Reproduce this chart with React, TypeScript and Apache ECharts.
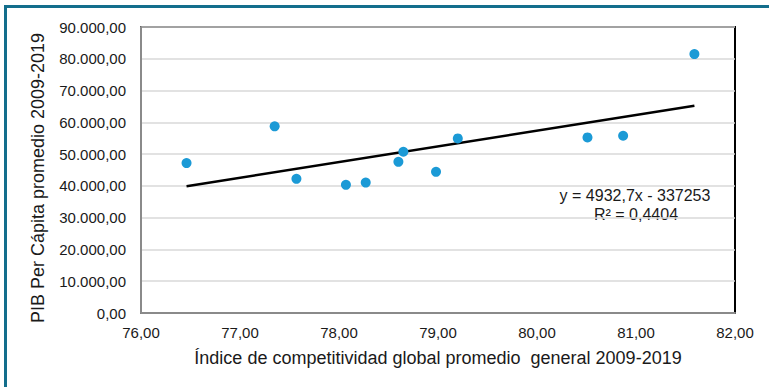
import React, { useEffect, useRef } from "react";
import * as echarts from "echarts";

// Índice de competitividad global (promedio 2009-2019)
const competitividad = [
  76.46, 77.35, 77.57, 78.07, 78.27, 78.6, 78.65, 78.98, 79.2, 80.51, 80.87, 81.59,
];
// PIB per cápita (promedio 2009-2019)
const pibPerCapita = [
  47170, 58730, 42220, 40320, 41050, 47580, 50740, 44430, 54940, 55260, 55790, 81470,
];

// Linear trend line coefficients
const pendiente = 4932.7;
const intercepto = -337253;
const r2 = 0.4404;

const xTicks = { min: 76, max: 82, interval: 1 };
const yTicks = { min: 0, max: 90000, interval: 10000 };

const FONT = "'Liberation Sans', Arial, sans-serif";
const TEXT = "#1a1a1a";

function fmtNum(v: number, decimals: number): string {
  const fixed = v.toFixed(decimals);
  const [ent, dec] = fixed.split(".");
  const withDots = ent.replace(/\B(?=(\d{3})+(?!\d))/g, ".");
  return dec !== undefined ? `${withDots},${dec}` : withDots;
}

export default function App() {
  const ref = useRef<HTMLDivElement>(null);

  useEffect(() => {
    if (!ref.current) return;
    const chart = echarts.init(ref.current, undefined, { renderer: "svg" });

    const xMin = Math.min(...competitividad);
    const xMax = Math.max(...competitividad);
    const tendencia = [
      [xMin, pendiente * xMin + intercepto],
      [xMax, pendiente * xMax + intercepto],
    ];
    const ecuacion = `y = ${pendiente.toFixed(1).replace(".", ",")}x - ${Math.abs(intercepto)}`;
    const r2Texto = `R² = ${r2.toFixed(4).replace(".", ",")}`;

    chart.setOption({
      animation: false,
      backgroundColor: "#ffffff",
      grid: {
        left: 141,
        top: 27,
        width: 594,
        height: 286,
        show: true,
        borderColor: "#000000",
        borderWidth: 2,
        backgroundColor: "transparent",
      },
      xAxis: {
        type: "value",
        min: xTicks.min,
        max: xTicks.max,
        interval: xTicks.interval,
        name: "Índice de competitividad global promedio  general 2009-2019",
        nameLocation: "middle",
        nameGap: 36,
        nameTextStyle: { fontFamily: FONT, fontSize: 18, color: TEXT },
        axisLine: { show: true, lineStyle: { color: "#8a8a8a", width: 2 } },
        axisTick: { show: false },
        splitLine: { show: false },
        axisLabel: {
          margin: 12,
          fontFamily: FONT,
          fontSize: 15,
          color: TEXT,
          formatter: (v: number) => fmtNum(v, 2),
        },
      },
      yAxis: {
        type: "value",
        min: yTicks.min,
        max: yTicks.max,
        interval: yTicks.interval,
        axisLine: { show: true, lineStyle: { color: "#8a8a8a", width: 2 } },
        axisTick: { show: false },
        splitLine: { show: true, lineStyle: { color: "#d9d9d9", width: 1.5 } },
        axisLabel: {
          margin: 15,
          fontFamily: FONT,
          fontSize: 15,
          color: TEXT,
          formatter: (v: number) => fmtNum(v, 2),
        },
      },
      series: [
        {
          type: "scatter",
          data: competitividad.map((x, i) => [x, pibPerCapita[i]]),
          symbol: "circle",
          symbolSize: 10,
          itemStyle: { color: "#1b9ad6", opacity: 1 },
          z: 3,
        },
        {
          type: "line",
          data: tendencia,
          symbol: "none",
          lineStyle: { color: "#000000", width: 2.5 },
          z: 2,
        },
      ],
      graphic: [
        { type: "rect", shape: { x: 4, y: 5, width: 3, height: 382 }, style: { fill: "#136e8c" } },
        { type: "rect", shape: { x: 4, y: 5, width: 765, height: 3 }, style: { fill: "#136e8c" } },
        {
          type: "text",
          x: 38,
          y: 178,
          rotation: Math.PI / 2,
          style: {
            text: "PIB Per Cápita promedio 2009-2019",
            fontFamily: FONT,
            fontSize: 18,
            fill: TEXT,
            align: "center",
            verticalAlign: "middle",
          },
        },
        {
          type: "text",
          x: 635,
          y: 195,
          style: {
            text: ecuacion,
            fontFamily: FONT,
            fontSize: 16,
            fill: TEXT,
            align: "center",
            verticalAlign: "middle",
          },
        },
        {
          type: "text",
          x: 636,
          y: 214,
          style: {
            text: r2Texto,
            fontFamily: FONT,
            fontSize: 16,
            fill: TEXT,
            align: "center",
            verticalAlign: "middle",
          },
        },
      ],
    });

    return () => chart.dispose();
  }, []);

  return (
    <div
      ref={ref}
      style={{ position: "fixed", left: 0, top: 0, width: 769, height: 387 }}
    />
  );
}
